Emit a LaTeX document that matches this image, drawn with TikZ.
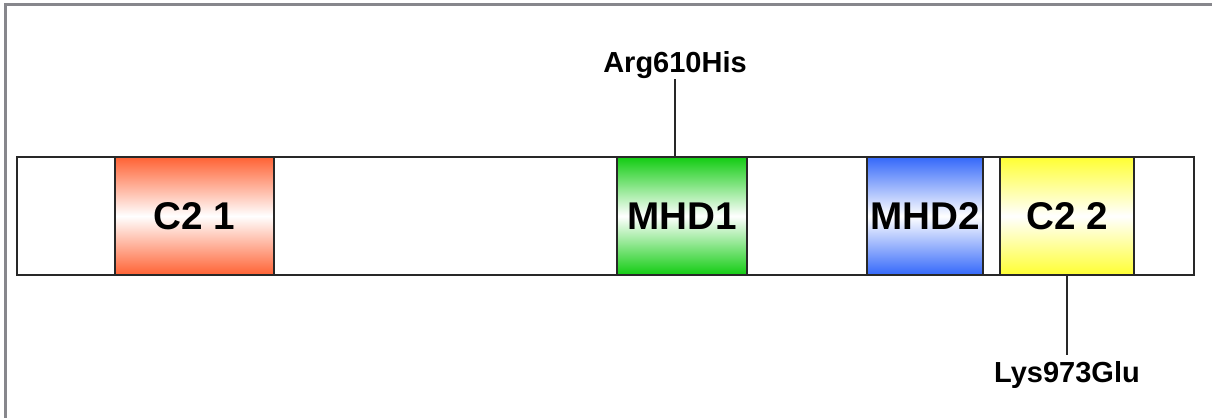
\documentclass[tikz,border=0pt]{standalone}
\usepackage{fontspec}
\setmainfont{Liberation Sans}
\usepackage{tikz}
\usetikzlibrary{positioning}
\definecolor{c2red}{RGB}{255,98,52}
\definecolor{mhdgreen}{RGB}{18,204,18}
\definecolor{mhdblue}{RGB}{52,104,250}
\definecolor{c2yellow}{RGB}{255,255,50}
\definecolor{framegray}{RGB}{135,135,140}
\definecolor{edgegray}{RGB}{40,40,40}
\tikzset{%
    domain/.style={%
        draw=edgegray, line width=0.9pt, rectangle,
        minimum height=2.36cm, inner sep=0pt,
        top color=#1, bottom color=#1, middle color=white,
        font=\fontsize{22}{26}\selectfont\bfseries
    }
}

\begin{document}
\begin{tikzpicture}[x=0.02cm,y=-0.02cm,
  mutation/.style={font=\fontsize{16.5}{20}\selectfont\bfseries,inner sep=0pt},
  protein/.style={draw=edgegray,line width=0.9pt,rectangle,fill=white,
    minimum width=23.54cm,minimum height=2.36cm,inner sep=0pt}]
  \useasboundingbox (0,0) rectangle (1212,418);
  \draw[framegray,line width=0.06cm] (5.5,418) -- (5.5,4.5) -- (1212,4.5);

  \node[protein] (bar) at (605.5,216) {};
  \node[domain=c2red,minimum width=3.18cm] (c21) at (194.5,216) {C2 1};
  \node[domain=mhdgreen,minimum width=2.6cm] (mhd1) at (682,216) {MHD1};
  \node[domain=mhdblue,minimum width=2.32cm] (mhd2) at (925,216) {MHD2};
  \node[domain=c2yellow,minimum width=2.68cm] (c22) at (1067,216) {C2 2};

  \node[mutation,anchor=base] (arg) at (675,73) {Arg610His};
  \node[mutation,anchor=base] (lys) at (1067,382) {Lys973Glu};
\path[draw=edgegray,line width=0.7pt]
  (arg.south) edge (arg.south |- mhd1.north)
  (c22.south) edge ([yshift=3pt]lys.north);
\end{tikzpicture}
\end{document}
